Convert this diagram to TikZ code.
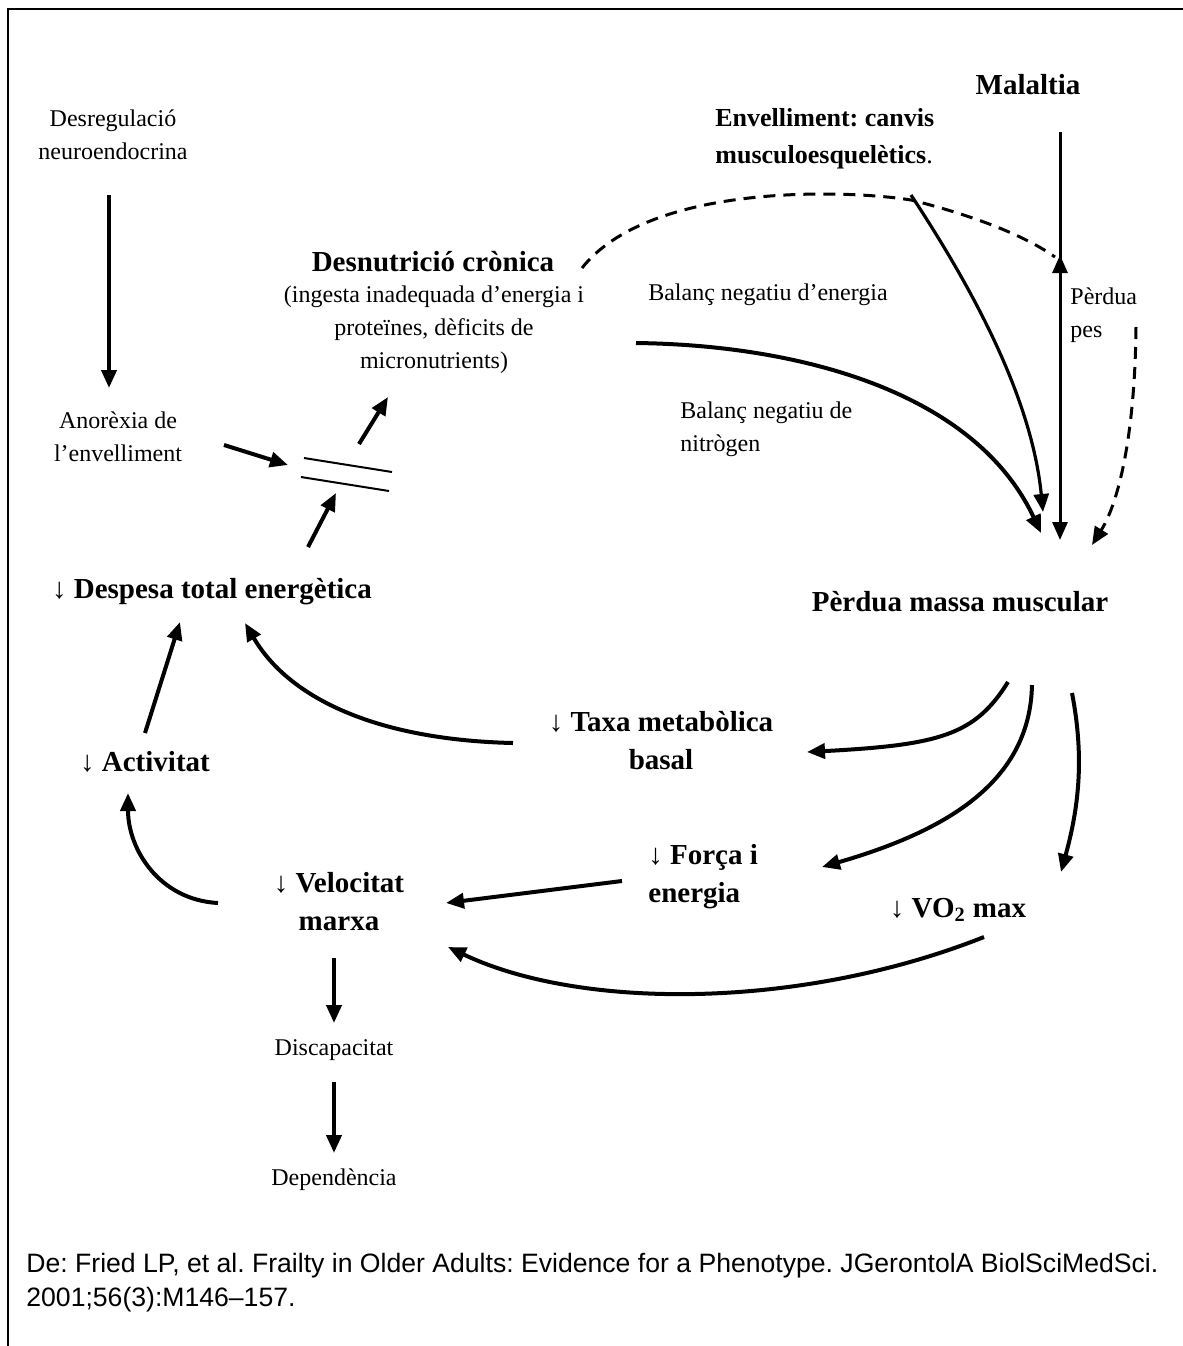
\documentclass[tikz,border=0pt]{standalone}
\usepackage{fontspec}
\setmainfont{Liberation Serif}
\newfontfamily\sansf{Liberation Sans}
\usetikzlibrary{arrows.meta}
\frenchspacing
\begin{document}
\begin{tikzpicture}[x=0.5pt,y=-0.5pt,
  txt/.style={font=\fontsize{12}{16.5}\selectfont, align=center, inner sep=0pt},
  bld/.style={font=\fontsize{14.5}{19}\selectfont\bfseries, align=center, inner sep=0pt},
  arr/.style={line width=2pt, -{Triangle[length=9pt,width=7.5pt]}},
  thinarr/.style={line width=1.5pt, -{Triangle[length=9pt,width=7.5pt]}},
  dasharr/.style={line width=1.5pt, dash pattern=on 6pt off 4pt, -{Triangle[length=9pt,width=7.5pt]}},
  dashln/.style={line width=1.5pt, dash pattern=on 6pt off 4pt}]
\useasboundingbox (0,0) rectangle (1183,1346);
\draw[line width=1.2pt] (8,1346) -- (8,9) -- (1183,9);

% nodes
\node[txt] (desreg) at (113,135) {Desregulació\\neuroendocrina};
\node[txt] (anor) at (118,437) {Anorèxia de\\l’envelliment};
\node[bld] (desnut) at (433,262) {Desnutrició crònica};
\node[txt] (ingesta) at (434,330) {(ingesta inadequada d’energia i\\proteïnes, dèficits de\\micronutrients)};
\node[bld] (malal) at (1028,85) {Malaltia};
\node[bld, font=\fontsize{13}{18.5}\selectfont\bfseries, align=left, anchor=west] (envell) at (715,139) {Envelliment: canvis\\musculoesquelètics\textnormal{.}};
\node[txt] (balen) at (768,295) {Balanç negatiu d’energia};
\node[txt, align=left, anchor=west] (balni) at (680,429) {Balanç negatiu de\\nitrògen};
\node[txt, align=left, anchor=west] (perpes) at (1070,315) {Pèrdua\\pes};
\node[bld] (permas) at (960,602) {Pèrdua massa muscular};
\node[bld] (despesa) at (212,592) {↓ Despesa total energètica};
\node[bld] (activ) at (145,762) {↓ Activitat};
\node[bld] (taxa) at (661,741) {↓ Taxa metabòlica\\basal};
\node[bld, align=left, anchor=west] (forca) at (648,877) {↓ Força i\\energia};
\node[bld] (veloc) at (339,902) {↓ Velocitat\\marxa};
\node[bld] (vo2) at (958,910) {↓ VO\textsubscript{2} max};
\node[txt] (discap) at (334,1050) {Discapacitat};
\node[txt] (depend) at (334,1180) {Dependència};
\node[font=\sansf\fontsize{13.3}{17}\selectfont, align=left, anchor=west, inner sep=0pt] (ref) at (26,1283)
  {De: Fried LP, et al. Frailty in Older Adults: Evidence for a Phenotype. JGerontolA BiolSciMedSci.\\2001;56(3):M146–157.};

% coordinates
\coordinate (a1) at (109,195); \coordinate (a2) at (109,388);
\coordinate (b1) at (224,445); \coordinate (b2) at (288,465);
\coordinate (c1) at (304,458); \coordinate (c2) at (392,472);
\coordinate (c3) at (301,477); \coordinate (c4) at (389,491);
\coordinate (d1) at (359,444); \coordinate (d2) at (388,397);
\coordinate (e1) at (308,547); \coordinate (e2) at (336,493);
\coordinate (f1) at (582,268); \coordinate (f2) at (911,200); \coordinate (f3) at (1055,257);
\coordinate (g1) at (1060,132); \coordinate (g2) at (1060,540);
\coordinate (g3) at (1060,276); \coordinate (g4) at (1060,255);
\coordinate (h1) at (911,195); \coordinate (h2) at (1043,512);
\coordinate (i1) at (636,343); \coordinate (i2) at (1041,533);
\coordinate (j1) at (1136,327); \coordinate (j2) at (1092,545);
\coordinate (k1) at (1008,682); \coordinate (k2) at (807,752);
\coordinate (l1) at (1032,685); \coordinate (l2) at (822,867);
\coordinate (m1) at (1072,693); \coordinate (m2) at (1061,872);
\coordinate (n1) at (513,743); \coordinate (n2) at (245,623);
\coordinate (o1) at (145,733); \coordinate (o2) at (180,622);
\coordinate (p1) at (218,903); \coordinate (p2) at (128,793);
\coordinate (q1) at (622,881); \coordinate (q2) at (446,903);
\coordinate (r1) at (984,937); \coordinate (r2) at (448,947);
\coordinate (s1) at (334,958); \coordinate (s2) at (334,1023);
\coordinate (t1) at (334,1082); \coordinate (t2) at (334,1153);

% connectors
\draw[arr] (a1) -- (a2);
\draw[arr] (b1) -- (b2);
\draw[line width=1pt] (c1) -- (c2);
\draw[line width=1pt] (c3) -- (c4);
\draw[arr] (d1) -- (d2);
\draw[arr] (e1) -- (e2);
\draw[dashln] (f1) .. controls (650,182) and (850,190) .. (f2) .. controls (960,212) and (1020,232) .. (f3);
\draw[thinarr] (g1) -- (g2);
\draw[thinarr] (g3) -- (g4);
\draw[arr, line width=1.6pt] (h1) .. controls (975,292) and (1032,400) .. (h2);
\draw[arr] (i1) .. controls (800,345) and (975,392) .. (i2);
\draw[dasharr] (j1) .. controls (1135,430) and (1120,500) .. (j2);
\draw[arr] (k1) .. controls (975,735) and (940,745) .. (k2);
\draw[arr] (l1) .. controls (1030,780) and (950,830) .. (l2);
\draw[arr] (m1) .. controls (1085,760) and (1078,810) .. (m2);
\draw[arr] (n1) .. controls (380,740) and (290,700) .. (n2);
\draw[arr] (o1) -- (o2);
\draw[arr] (p1) .. controls (160,900) and (128,850) .. (p2);
\draw[arr] (q1) -- (q2);
\draw[arr] (r1) .. controls (800,1010) and (580,1010) .. (r2);
\draw[arr] (s1) -- (s2);
\draw[arr] (t1) -- (t2);
\end{tikzpicture}
\end{document}
